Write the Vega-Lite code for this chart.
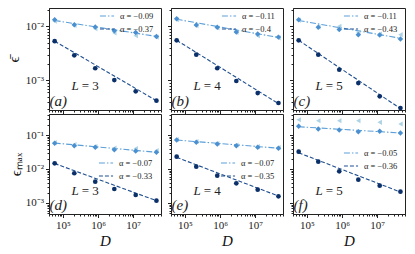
{
  "$schema": "https://vega.github.io/schema/vega-lite/v6.json",
  "padding": {"left": 5, "top": 3, "right": 5, "bottom": 2},
  "background": "white",
  "config": {
    "font": "Liberation Serif",
    "view": {"stroke": "#222", "strokeWidth": 1},
    "axis": {"grid": false, "labelFontSize": 11, "titleFontSize": 15, "titleFontWeight": "normal", "domainColor": "#222", "tickColor": "#222", "labelColor": "#222", "titleColor": "#111", "labelOverlap": false, "labelBound": false, "labelFlush": false, "labelPadding": 2},
    "legend": {"labelFontSize": 8.5, "labelColor": "#222", "symbolType": "stroke", "symbolSize": 200, "symbolStrokeWidth": 1.2, "rowPadding": -3, "padding": 0, "labelOffset": 5, "title": null}
  },
  "bounds": "flush",
  "columns": 3,
  "spacing": {"row": 4, "column": 10},
  "resolve": {"scale": {"color": "independent", "strokeDash": "independent"}, "legend": {"color": "independent", "strokeDash": "independent"}},
  "datasets": {
    "all": [
      {"panel":"a","kind":"cir","D":58000,"value":0.0053},{"panel":"a","kind":"cir","D":210000,"value":0.0029},{"panel":"a","kind":"cir","D":830000,"value":0.00167},{"panel":"a","kind":"cir","D":2900000,"value":0.00101},{"panel":"a","kind":"cir","D":11800000,"value":0.000625},{"panel":"a","kind":"cir","D":46000000,"value":0.00042},
      {"panel":"a","kind":"dia","D":58000,"value":0.0132},{"panel":"a","kind":"dia","D":210000,"value":0.0107},{"panel":"a","kind":"dia","D":830000,"value":0.0097},{"panel":"a","kind":"dia","D":2900000,"value":0.0083},{"panel":"a","kind":"dia","D":11800000,"value":0.0077},{"panel":"a","kind":"dia","D":46000000,"value":0.0065},
      {"panel":"a","kind":"tri","D":58000,"value":0.0124},{"panel":"a","kind":"tri","D":210000,"value":0.0104},{"panel":"a","kind":"tri","D":830000,"value":0.009},{"panel":"a","kind":"tri","D":2900000,"value":0.0075},{"panel":"a","kind":"tri","D":11800000,"value":0.0067},{"panel":"a","kind":"tri","D":46000000,"value":0.0063},
      {"panel":"a","kind":"fit","fit":"α = −0.09","D":58000,"value":0.0128},{"panel":"a","kind":"fit","fit":"α = −0.09","D":46000000,"value":0.0065},
      {"panel":"a","kind":"fit","fit":"α = −0.37","D":58000,"value":0.0053},{"panel":"a","kind":"fit","fit":"α = −0.37","D":46000000,"value":0.00042},
      {"panel":"a","kind":"L","text":"= 3","D":300000,"value":0.00079},{"panel":"a","kind":"tag","text":"(a)","D":41500,"value":0.00041},

      {"panel":"b","kind":"cir","D":58000,"value":0.0055},{"panel":"b","kind":"cir","D":210000,"value":0.00298},{"panel":"b","kind":"cir","D":830000,"value":0.00167},{"panel":"b","kind":"cir","D":2900000,"value":0.00097},{"panel":"b","kind":"cir","D":11800000,"value":0.00058},{"panel":"b","kind":"cir","D":46000000,"value":0.00038},
      {"panel":"b","kind":"dia","D":58000,"value":0.0138},{"panel":"b","kind":"dia","D":210000,"value":0.0106},{"panel":"b","kind":"dia","D":830000,"value":0.0096},{"panel":"b","kind":"dia","D":2900000,"value":0.0078},{"panel":"b","kind":"dia","D":11800000,"value":0.0072},{"panel":"b","kind":"dia","D":46000000,"value":0.0063},
      {"panel":"b","kind":"tri","D":58000,"value":0.0132},{"panel":"b","kind":"tri","D":210000,"value":0.0103},{"panel":"b","kind":"tri","D":830000,"value":0.0093},{"panel":"b","kind":"tri","D":2900000,"value":0.0077},{"panel":"b","kind":"tri","D":11800000,"value":0.0067},{"panel":"b","kind":"tri","D":46000000,"value":0.0061},
      {"panel":"b","kind":"fit","fit":"α = −0.11","D":58000,"value":0.0135},{"panel":"b","kind":"fit","fit":"α = −0.11","D":46000000,"value":0.0062},
      {"panel":"b","kind":"fit","fit":"α = −0.4","D":58000,"value":0.0055},{"panel":"b","kind":"fit","fit":"α = −0.4","D":46000000,"value":0.00037},
      {"panel":"b","kind":"L","text":"= 4","D":300000,"value":0.00079},{"panel":"b","kind":"tag","text":"(b)","D":41500,"value":0.00041},

      {"panel":"c","kind":"cir","D":58000,"value":0.0055},{"panel":"c","kind":"cir","D":210000,"value":0.00298},{"panel":"c","kind":"cir","D":830000,"value":0.00157},{"panel":"c","kind":"cir","D":2900000,"value":0.00089},{"panel":"c","kind":"cir","D":11800000,"value":0.000506},{"panel":"c","kind":"cir","D":46000000,"value":0.000307},
      {"panel":"c","kind":"dia","D":58000,"value":0.0132},{"panel":"c","kind":"dia","D":210000,"value":0.0096},{"panel":"c","kind":"dia","D":830000,"value":0.0087},{"panel":"c","kind":"dia","D":2900000,"value":0.007},{"panel":"c","kind":"dia","D":11800000,"value":0.0069},{"panel":"c","kind":"dia","D":46000000,"value":0.0058},
      {"panel":"c","kind":"tri","D":58000,"value":0.013},{"panel":"c","kind":"tri","D":210000,"value":0.0097},{"panel":"c","kind":"tri","D":830000,"value":0.01},{"panel":"c","kind":"tri","D":2900000,"value":0.0077},{"panel":"c","kind":"tri","D":11800000,"value":0.0072},{"panel":"c","kind":"tri","D":46000000,"value":0.007},
      {"panel":"c","kind":"fit","fit":"α = −0.11","D":58000,"value":0.0128},{"panel":"c","kind":"fit","fit":"α = −0.11","D":46000000,"value":0.006},
      {"panel":"c","kind":"fit","fit":"α = −0.43","D":58000,"value":0.0055},{"panel":"c","kind":"fit","fit":"α = −0.43","D":46000000,"value":0.0003},
      {"panel":"c","kind":"L","text":"= 5","D":300000,"value":0.00079},{"panel":"c","kind":"tag","text":"(c)","D":41500,"value":0.00041},

      {"panel":"d","kind":"cir","D":58000,"value":0.0147},{"panel":"d","kind":"cir","D":210000,"value":0.00748},{"panel":"d","kind":"cir","D":830000,"value":0.00423},{"panel":"d","kind":"cir","D":2900000,"value":0.00258},{"panel":"d","kind":"cir","D":11800000,"value":0.00172},{"panel":"d","kind":"cir","D":46000000,"value":0.00117},
      {"panel":"d","kind":"dia","D":58000,"value":0.057},{"panel":"d","kind":"dia","D":210000,"value":0.0484},{"panel":"d","kind":"dia","D":830000,"value":0.0434},{"panel":"d","kind":"dia","D":2900000,"value":0.037},{"panel":"d","kind":"dia","D":11800000,"value":0.0338},{"panel":"d","kind":"dia","D":46000000,"value":0.031},
      {"panel":"d","kind":"tri","D":58000,"value":0.06},{"panel":"d","kind":"tri","D":210000,"value":0.0526},{"panel":"d","kind":"tri","D":830000,"value":0.0459},{"panel":"d","kind":"tri","D":2900000,"value":0.0415},{"panel":"d","kind":"tri","D":11800000,"value":0.0401},{"panel":"d","kind":"tri","D":46000000,"value":0.035},
      {"panel":"d","kind":"fit","fit":"α = −0.07","D":58000,"value":0.058},{"panel":"d","kind":"fit","fit":"α = −0.07","D":46000000,"value":0.031},
      {"panel":"d","kind":"fit","fit":"α = −0.33","D":58000,"value":0.0145},{"panel":"d","kind":"fit","fit":"α = −0.33","D":46000000,"value":0.00117},
      {"panel":"d","kind":"L","text":"= 3","D":300000,"value":0.0023},{"panel":"d","kind":"tag","text":"(d)","D":41500,"value":0.00087},

      {"panel":"e","kind":"cir","D":58000,"value":0.023},{"panel":"e","kind":"cir","D":210000,"value":0.0117},{"panel":"e","kind":"cir","D":830000,"value":0.00635},{"panel":"e","kind":"cir","D":2900000,"value":0.00379},{"panel":"e","kind":"cir","D":11800000,"value":0.00246},{"panel":"e","kind":"cir","D":46000000,"value":0.00157},
      {"panel":"e","kind":"dia","D":58000,"value":0.0713},{"panel":"e","kind":"dia","D":210000,"value":0.061},{"panel":"e","kind":"dia","D":830000,"value":0.0543},{"panel":"e","kind":"dia","D":2900000,"value":0.0484},{"panel":"e","kind":"dia","D":11800000,"value":0.0434},{"panel":"e","kind":"dia","D":46000000,"value":0.0406},
      {"panel":"e","kind":"tri","D":58000,"value":0.0737},{"panel":"e","kind":"tri","D":210000,"value":0.0644},{"panel":"e","kind":"tri","D":830000,"value":0.0563},{"panel":"e","kind":"tri","D":2900000,"value":0.0508},{"panel":"e","kind":"tri","D":11800000,"value":0.0459},{"panel":"e","kind":"tri","D":46000000,"value":0.0429},
      {"panel":"e","kind":"fit","fit":"α = −0.07","D":58000,"value":0.071},{"panel":"e","kind":"fit","fit":"α = −0.07","D":46000000,"value":0.041},
      {"panel":"e","kind":"fit","fit":"α = −0.35","D":58000,"value":0.022},{"panel":"e","kind":"fit","fit":"α = −0.35","D":46000000,"value":0.0016},
      {"panel":"e","kind":"L","text":"= 4","D":300000,"value":0.0023},{"panel":"e","kind":"tag","text":"(e)","D":41500,"value":0.00087},

      {"panel":"f","kind":"cir","D":58000,"value":0.0323},{"panel":"f","kind":"cir","D":210000,"value":0.0164},{"panel":"f","kind":"cir","D":830000,"value":0.00856},{"panel":"f","kind":"cir","D":2900000,"value":0.00484},{"panel":"f","kind":"cir","D":11800000,"value":0.00323},{"panel":"f","kind":"cir","D":46000000,"value":0.00215},
      {"panel":"f","kind":"dia","D":58000,"value":0.18},{"panel":"f","kind":"dia","D":210000,"value":0.15},{"panel":"f","kind":"dia","D":830000,"value":0.14},{"panel":"f","kind":"dia","D":2900000,"value":0.125},{"panel":"f","kind":"dia","D":11800000,"value":0.128},{"panel":"f","kind":"dia","D":46000000,"value":0.115},
      {"panel":"f","kind":"tri","D":58000,"value":0.282},{"panel":"f","kind":"tri","D":210000,"value":0.263},{"panel":"f","kind":"tri","D":830000,"value":0.263},{"panel":"f","kind":"tri","D":2900000,"value":0.263},{"panel":"f","kind":"tri","D":11800000,"value":0.236},{"panel":"f","kind":"tri","D":46000000,"value":0.211},
      {"panel":"f","kind":"fit","fit":"α = −0.05","D":58000,"value":0.175},{"panel":"f","kind":"fit","fit":"α = −0.05","D":46000000,"value":0.115},
      {"panel":"f","kind":"fit","fit":"α = −0.36","D":58000,"value":0.03},{"panel":"f","kind":"fit","fit":"α = −0.36","D":46000000,"value":0.0021},
      {"panel":"f","kind":"L","text":"= 5","D":300000,"value":0.0023},{"panel":"f","kind":"tag","text":"(f)","D":41500,"value":0.00087}
    ]
  },
  "data": {"name": "all"},
  "concat": [
    {
      "width": 112, "height": 102,
      "transform": [{"filter": "datum.panel=='a'"}],
      "encoding": {
        "x": {"field": "D", "type": "quantitative", "scale": {"type": "log", "domain": [40000, 62000000]}, "axis": {"values": [40000,50000,60000,70000,80000,90000,100000,200000,300000,400000,500000,600000,700000,800000,900000,1000000,2000000,3000000,4000000,5000000,6000000,7000000,8000000,9000000,10000000,20000000,30000000,40000000,50000000,60000000], "labels": false, "title": null, "tickSize": {"condition": {"test": "datum.value==100000||datum.value==1000000||datum.value==10000000", "value": 3.5}, "value": 2}}},
        "y": {"field": "value", "type": "quantitative", "scale": {"type": "log", "domain": [0.000282, 0.0218]}, "axis": {"values": [0.0003,0.0004,0.0005,0.0006,0.0007,0.0008,0.0009,0.001,0.002,0.003,0.004,0.005,0.006,0.007,0.008,0.009,0.01,0.02], "labelExpr": "datum.value==0.01?'10⁻²':datum.value==0.001?'10⁻³':''", "title": "ϵ̄", "titlePadding": 4, "tickSize": {"condition": {"test": "datum.value==0.01||datum.value==0.001", "value": 3.5}, "value": 2}}}
      },
      "layer": [
        {"transform": [{"filter": "datum.kind=='fit'"}], "mark": {"type": "line", "strokeWidth": 1.1}, "encoding": {"color": {"field": "fit", "type": "nominal", "scale": {"domain": ["α = −0.09", "α = −0.37"], "range": ["#5c9fd8", "#1f4f8f"]}, "legend": {"orient": "none", "legendX": 50, "legendY": 0}}, "strokeDash": {"field": "fit", "type": "nominal", "scale": {"domain": ["α = −0.09", "α = −0.37"], "range": [[6, 2, 1.5, 2], [4, 2]]}, "legend": {"orient": "none", "legendX": 50, "legendY": 0}}}},
        {"transform": [{"filter": "datum.kind=='tri'"}], "mark": {"type": "point", "shape": "triangle-left", "filled": true, "size": 26, "color": "#9ecae1", "opacity": 0.85}},
        {"transform": [{"filter": "datum.kind=='dia'"}], "mark": {"type": "point", "shape": "diamond", "filled": true, "size": 30, "color": "#4a8fcf", "opacity": 1}},
        {"transform": [{"filter": "datum.kind=='cir'"}], "mark": {"type": "circle", "size": 22, "color": "#0b3069", "opacity": 1}},
        {"transform": [{"filter": "datum.kind=='L'"}], "mark": {"type": "text", "text": "L", "fontStyle": "italic", "align": "right", "dx": -1, "fontSize": 13, "color": "#222"}},
        {"transform": [{"filter": "datum.kind=='L'"}], "mark": {"type": "text", "align": "left", "dx": 2, "fontSize": 13, "color": "#222"}, "encoding": {"text": {"field": "text"}}},
        {"transform": [{"filter": "datum.kind=='tag'"}], "mark": {"type": "text", "align": "left", "fontSize": 15, "fontStyle": "italic", "color": "#222"}, "encoding": {"text": {"field": "text"}}}
      ]
    },
    {
      "width": 112, "height": 102,
      "transform": [{"filter": "datum.panel=='b'"}],
      "encoding": {
        "x": {"field": "D", "type": "quantitative", "scale": {"type": "log", "domain": [40000, 62000000]}, "axis": {"values": [40000,50000,60000,70000,80000,90000,100000,200000,300000,400000,500000,600000,700000,800000,900000,1000000,2000000,3000000,4000000,5000000,6000000,7000000,8000000,9000000,10000000,20000000,30000000,40000000,50000000,60000000], "labels": false, "title": null, "tickSize": {"condition": {"test": "datum.value==100000||datum.value==1000000||datum.value==10000000", "value": 3.5}, "value": 2}}},
        "y": {"field": "value", "type": "quantitative", "scale": {"type": "log", "domain": [0.000282, 0.0218]}, "axis": {"values": [0.0003,0.0004,0.0005,0.0006,0.0007,0.0008,0.0009,0.001,0.002,0.003,0.004,0.005,0.006,0.007,0.008,0.009,0.01,0.02], "labels": false, "title": null, "tickSize": {"condition": {"test": "datum.value==0.01||datum.value==0.001", "value": 3.5}, "value": 2}}}
      },
      "layer": [
        {"transform": [{"filter": "datum.kind=='fit'"}], "mark": {"type": "line", "strokeWidth": 1.1}, "encoding": {"color": {"field": "fit", "type": "nominal", "scale": {"domain": ["α = −0.11", "α = −0.4"], "range": ["#5c9fd8", "#1f4f8f"]}, "legend": {"orient": "none", "legendX": 50, "legendY": 0}}, "strokeDash": {"field": "fit", "type": "nominal", "scale": {"domain": ["α = −0.11", "α = −0.4"], "range": [[6, 2, 1.5, 2], [4, 2]]}, "legend": {"orient": "none", "legendX": 50, "legendY": 0}}}},
        {"transform": [{"filter": "datum.kind=='tri'"}], "mark": {"type": "point", "shape": "triangle-left", "filled": true, "size": 26, "color": "#9ecae1", "opacity": 0.85}},
        {"transform": [{"filter": "datum.kind=='dia'"}], "mark": {"type": "point", "shape": "diamond", "filled": true, "size": 30, "color": "#4a8fcf", "opacity": 1}},
        {"transform": [{"filter": "datum.kind=='cir'"}], "mark": {"type": "circle", "size": 22, "color": "#0b3069", "opacity": 1}},
        {"transform": [{"filter": "datum.kind=='L'"}], "mark": {"type": "text", "text": "L", "fontStyle": "italic", "align": "right", "dx": -1, "fontSize": 13, "color": "#222"}},
        {"transform": [{"filter": "datum.kind=='L'"}], "mark": {"type": "text", "align": "left", "dx": 2, "fontSize": 13, "color": "#222"}, "encoding": {"text": {"field": "text"}}},
        {"transform": [{"filter": "datum.kind=='tag'"}], "mark": {"type": "text", "align": "left", "fontSize": 15, "fontStyle": "italic", "color": "#222"}, "encoding": {"text": {"field": "text"}}}
      ]
    },
    {
      "width": 112, "height": 102,
      "transform": [{"filter": "datum.panel=='c'"}],
      "encoding": {
        "x": {"field": "D", "type": "quantitative", "scale": {"type": "log", "domain": [40000, 62000000]}, "axis": {"values": [40000,50000,60000,70000,80000,90000,100000,200000,300000,400000,500000,600000,700000,800000,900000,1000000,2000000,3000000,4000000,5000000,6000000,7000000,8000000,9000000,10000000,20000000,30000000,40000000,50000000,60000000], "labels": false, "title": null, "tickSize": {"condition": {"test": "datum.value==100000||datum.value==1000000||datum.value==10000000", "value": 3.5}, "value": 2}}},
        "y": {"field": "value", "type": "quantitative", "scale": {"type": "log", "domain": [0.000282, 0.0218]}, "axis": {"values": [0.0003,0.0004,0.0005,0.0006,0.0007,0.0008,0.0009,0.001,0.002,0.003,0.004,0.005,0.006,0.007,0.008,0.009,0.01,0.02], "labels": false, "title": null, "tickSize": {"condition": {"test": "datum.value==0.01||datum.value==0.001", "value": 3.5}, "value": 2}}}
      },
      "layer": [
        {"transform": [{"filter": "datum.kind=='fit'"}], "mark": {"type": "line", "strokeWidth": 1.1}, "encoding": {"color": {"field": "fit", "type": "nominal", "scale": {"domain": ["α = −0.11", "α = −0.43"], "range": ["#5c9fd8", "#1f4f8f"]}, "legend": {"orient": "none", "legendX": 50, "legendY": 0}}, "strokeDash": {"field": "fit", "type": "nominal", "scale": {"domain": ["α = −0.11", "α = −0.43"], "range": [[6, 2, 1.5, 2], [4, 2]]}, "legend": {"orient": "none", "legendX": 50, "legendY": 0}}}},
        {"transform": [{"filter": "datum.kind=='tri'"}], "mark": {"type": "point", "shape": "triangle-left", "filled": true, "size": 26, "color": "#9ecae1", "opacity": 0.85}},
        {"transform": [{"filter": "datum.kind=='dia'"}], "mark": {"type": "point", "shape": "diamond", "filled": true, "size": 30, "color": "#4a8fcf", "opacity": 1}},
        {"transform": [{"filter": "datum.kind=='cir'"}], "mark": {"type": "circle", "size": 22, "color": "#0b3069", "opacity": 1}},
        {"transform": [{"filter": "datum.kind=='L'"}], "mark": {"type": "text", "text": "L", "fontStyle": "italic", "align": "right", "dx": -1, "fontSize": 13, "color": "#222"}},
        {"transform": [{"filter": "datum.kind=='L'"}], "mark": {"type": "text", "align": "left", "dx": 2, "fontSize": 13, "color": "#222"}, "encoding": {"text": {"field": "text"}}},
        {"transform": [{"filter": "datum.kind=='tag'"}], "mark": {"type": "text", "align": "left", "fontSize": 15, "fontStyle": "italic", "color": "#222"}, "encoding": {"text": {"field": "text"}}}
      ]
    },
    {
      "width": 112, "height": 100,
      "transform": [{"filter": "datum.panel=='d'"}],
      "encoding": {
        "x": {"field": "D", "type": "quantitative", "scale": {"type": "log", "domain": [40000, 62000000]}, "axis": {"values": [40000,50000,60000,70000,80000,90000,100000,200000,300000,400000,500000,600000,700000,800000,900000,1000000,2000000,3000000,4000000,5000000,6000000,7000000,8000000,9000000,10000000,20000000,30000000,40000000,50000000,60000000], "labelExpr": "datum.value==100000?'10⁵':datum.value==1000000?'10⁶':datum.value==10000000?'10⁷':''", "title": "D", "titleFontStyle": "italic", "titlePadding": 3, "tickSize": {"condition": {"test": "datum.value==100000||datum.value==1000000||datum.value==10000000", "value": 3.5}, "value": 2}}},
        "y": {"field": "value", "type": "quantitative", "scale": {"type": "log", "domain": [0.000474, 0.415]}, "axis": {"values": [0.0005,0.0006,0.0007,0.0008,0.0009,0.001,0.002,0.003,0.004,0.005,0.006,0.007,0.008,0.009,0.01,0.02,0.03,0.04,0.05,0.06,0.07,0.08,0.09,0.1,0.2,0.3,0.4], "labelExpr": "datum.value==0.1?'10⁻¹':datum.value==0.01?'10⁻²':datum.value==0.001?'10⁻³':''", "title": "ϵₘₐₓ", "titlePadding": 2, "tickSize": {"condition": {"test": "datum.value==0.1||datum.value==0.01||datum.value==0.001", "value": 3.5}, "value": 2}}}
      },
      "layer": [
        {"transform": [{"filter": "datum.kind=='fit'"}], "mark": {"type": "line", "strokeWidth": 1.1}, "encoding": {"color": {"field": "fit", "type": "nominal", "scale": {"domain": ["α = −0.07", "α = −0.33"], "range": ["#5c9fd8", "#1f4f8f"]}, "legend": {"orient": "none", "legendX": 49, "legendY": 41}}, "strokeDash": {"field": "fit", "type": "nominal", "scale": {"domain": ["α = −0.07", "α = −0.33"], "range": [[6, 2, 1.5, 2], [4, 2]]}, "legend": {"orient": "none", "legendX": 49, "legendY": 41}}}},
        {"transform": [{"filter": "datum.kind=='tri'"}], "mark": {"type": "point", "shape": "triangle-left", "filled": true, "size": 26, "color": "#9ecae1", "opacity": 0.85}},
        {"transform": [{"filter": "datum.kind=='dia'"}], "mark": {"type": "point", "shape": "diamond", "filled": true, "size": 30, "color": "#4a8fcf", "opacity": 1}},
        {"transform": [{"filter": "datum.kind=='cir'"}], "mark": {"type": "circle", "size": 22, "color": "#0b3069", "opacity": 1}},
        {"transform": [{"filter": "datum.kind=='L'"}], "mark": {"type": "text", "text": "L", "fontStyle": "italic", "align": "right", "dx": -1, "fontSize": 13, "color": "#222"}},
        {"transform": [{"filter": "datum.kind=='L'"}], "mark": {"type": "text", "align": "left", "dx": 2, "fontSize": 13, "color": "#222"}, "encoding": {"text": {"field": "text"}}},
        {"transform": [{"filter": "datum.kind=='tag'"}], "mark": {"type": "text", "align": "left", "fontSize": 15, "fontStyle": "italic", "color": "#222"}, "encoding": {"text": {"field": "text"}}}
      ]
    },
    {
      "width": 112, "height": 100,
      "transform": [{"filter": "datum.panel=='e'"}],
      "encoding": {
        "x": {"field": "D", "type": "quantitative", "scale": {"type": "log", "domain": [40000, 62000000]}, "axis": {"values": [40000,50000,60000,70000,80000,90000,100000,200000,300000,400000,500000,600000,700000,800000,900000,1000000,2000000,3000000,4000000,5000000,6000000,7000000,8000000,9000000,10000000,20000000,30000000,40000000,50000000,60000000], "labelExpr": "datum.value==100000?'10⁵':datum.value==1000000?'10⁶':datum.value==10000000?'10⁷':''", "title": "D", "titleFontStyle": "italic", "titlePadding": 3, "tickSize": {"condition": {"test": "datum.value==100000||datum.value==1000000||datum.value==10000000", "value": 3.5}, "value": 2}}},
        "y": {"field": "value", "type": "quantitative", "scale": {"type": "log", "domain": [0.000474, 0.415]}, "axis": {"values": [0.0005,0.0006,0.0007,0.0008,0.0009,0.001,0.002,0.003,0.004,0.005,0.006,0.007,0.008,0.009,0.01,0.02,0.03,0.04,0.05,0.06,0.07,0.08,0.09,0.1,0.2,0.3,0.4], "labels": false, "title": null, "tickSize": {"condition": {"test": "datum.value==0.1||datum.value==0.01||datum.value==0.001", "value": 3.5}, "value": 2}}}
      },
      "layer": [
        {"transform": [{"filter": "datum.kind=='fit'"}], "mark": {"type": "line", "strokeWidth": 1.1}, "encoding": {"color": {"field": "fit", "type": "nominal", "scale": {"domain": ["α = −0.07", "α = −0.35"], "range": ["#5c9fd8", "#1f4f8f"]}, "legend": {"orient": "none", "legendX": 49, "legendY": 41}}, "strokeDash": {"field": "fit", "type": "nominal", "scale": {"domain": ["α = −0.07", "α = −0.35"], "range": [[6, 2, 1.5, 2], [4, 2]]}, "legend": {"orient": "none", "legendX": 49, "legendY": 41}}}},
        {"transform": [{"filter": "datum.kind=='tri'"}], "mark": {"type": "point", "shape": "triangle-left", "filled": true, "size": 26, "color": "#9ecae1", "opacity": 0.85}},
        {"transform": [{"filter": "datum.kind=='dia'"}], "mark": {"type": "point", "shape": "diamond", "filled": true, "size": 30, "color": "#4a8fcf", "opacity": 1}},
        {"transform": [{"filter": "datum.kind=='cir'"}], "mark": {"type": "circle", "size": 22, "color": "#0b3069", "opacity": 1}},
        {"transform": [{"filter": "datum.kind=='L'"}], "mark": {"type": "text", "text": "L", "fontStyle": "italic", "align": "right", "dx": -1, "fontSize": 13, "color": "#222"}},
        {"transform": [{"filter": "datum.kind=='L'"}], "mark": {"type": "text", "align": "left", "dx": 2, "fontSize": 13, "color": "#222"}, "encoding": {"text": {"field": "text"}}},
        {"transform": [{"filter": "datum.kind=='tag'"}], "mark": {"type": "text", "align": "left", "fontSize": 15, "fontStyle": "italic", "color": "#222"}, "encoding": {"text": {"field": "text"}}}
      ]
    },
    {
      "width": 112, "height": 100,
      "transform": [{"filter": "datum.panel=='f'"}],
      "encoding": {
        "x": {"field": "D", "type": "quantitative", "scale": {"type": "log", "domain": [40000, 62000000]}, "axis": {"values": [40000,50000,60000,70000,80000,90000,100000,200000,300000,400000,500000,600000,700000,800000,900000,1000000,2000000,3000000,4000000,5000000,6000000,7000000,8000000,9000000,10000000,20000000,30000000,40000000,50000000,60000000], "labelExpr": "datum.value==100000?'10⁵':datum.value==1000000?'10⁶':datum.value==10000000?'10⁷':''", "title": "D", "titleFontStyle": "italic", "titlePadding": 3, "tickSize": {"condition": {"test": "datum.value==100000||datum.value==1000000||datum.value==10000000", "value": 3.5}, "value": 2}}},
        "y": {"field": "value", "type": "quantitative", "scale": {"type": "log", "domain": [0.000474, 0.415]}, "axis": {"values": [0.0005,0.0006,0.0007,0.0008,0.0009,0.001,0.002,0.003,0.004,0.005,0.006,0.007,0.008,0.009,0.01,0.02,0.03,0.04,0.05,0.06,0.07,0.08,0.09,0.1,0.2,0.3,0.4], "labels": false, "title": null, "tickSize": {"condition": {"test": "datum.value==0.1||datum.value==0.01||datum.value==0.001", "value": 3.5}, "value": 2}}}
      },
      "layer": [
        {"transform": [{"filter": "datum.kind=='fit'"}], "mark": {"type": "line", "strokeWidth": 1.1}, "encoding": {"color": {"field": "fit", "type": "nominal", "scale": {"domain": ["α = −0.05", "α = −0.36"], "range": ["#5c9fd8", "#1f4f8f"]}, "legend": {"orient": "none", "legendX": 50, "legendY": 31}}, "strokeDash": {"field": "fit", "type": "nominal", "scale": {"domain": ["α = −0.05", "α = −0.36"], "range": [[6, 2, 1.5, 2], [4, 2]]}, "legend": {"orient": "none", "legendX": 50, "legendY": 31}}}},
        {"transform": [{"filter": "datum.kind=='tri'"}], "mark": {"type": "point", "shape": "triangle-left", "filled": true, "size": 26, "color": "#9ecae1", "opacity": 0.85}},
        {"transform": [{"filter": "datum.kind=='dia'"}], "mark": {"type": "point", "shape": "diamond", "filled": true, "size": 30, "color": "#4a8fcf", "opacity": 1}},
        {"transform": [{"filter": "datum.kind=='cir'"}], "mark": {"type": "circle", "size": 22, "color": "#0b3069", "opacity": 1}},
        {"transform": [{"filter": "datum.kind=='L'"}], "mark": {"type": "text", "text": "L", "fontStyle": "italic", "align": "right", "dx": -1, "fontSize": 13, "color": "#222"}},
        {"transform": [{"filter": "datum.kind=='L'"}], "mark": {"type": "text", "align": "left", "dx": 2, "fontSize": 13, "color": "#222"}, "encoding": {"text": {"field": "text"}}},
        {"transform": [{"filter": "datum.kind=='tag'"}], "mark": {"type": "text", "align": "left", "fontSize": 15, "fontStyle": "italic", "color": "#222"}, "encoding": {"text": {"field": "text"}}}
      ]
    }
  ]
}
